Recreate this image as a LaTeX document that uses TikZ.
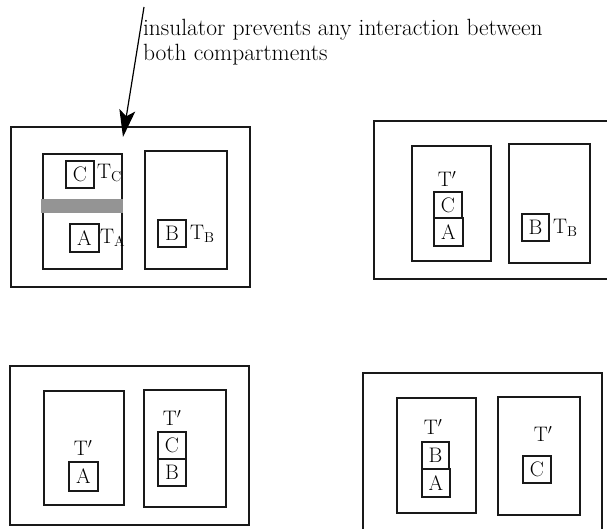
\documentclass[tikz,border=0pt]{standalone}
\usetikzlibrary{arrows.meta}
\begin{document}
\begin{tikzpicture}[x=1pt,y=-1pt,
  every node/.style={font=\fontsize{21}{25}\selectfont, inner sep=0pt, outer sep=0pt},
  outerbox/.style={draw=black!90, line width=1.5pt},
  compbox/.style={draw=black!90, line width=1.2pt},
  rect/.style={draw=black!90, line width=1.2pt},
  lbl/.style={anchor=west},
  ins/.style={fill=black!42, draw=none},
  pointer/.style={line width=1.2pt, -{Stealth[length=27pt,width=16pt,inset=6pt]}}
]
\useasboundingbox (0,0) rectangle (607,529);
\newcommand{\bx}[5]{\node[rect, minimum width=#3, minimum height=#4] (#1) at #2 {#5};}

% ---------- text and arrow ----------
\node[anchor=north west, align=left, font=\fontsize{23.5}{25.5}\selectfont] (note) at (143,19) {insulator prevents any interaction between\\both compartments};
\coordinate (arrstart) at (144,7);

% ---------- top-left ----------
\node[outerbox, minimum width=239, minimum height=160] (o1) at (130.5,207) {};
\node[compbox, minimum width=79, minimum height=115] (l1) at (82.5,211.5) {};
\node[compbox, minimum width=82, minimum height=118] (r1) at (186,210) {};
\node[ins, minimum width=82, minimum height=14] (bar) at (82,206) {};
\bx{c1}{(80,174.5)}{28}{27}{C}
\node[lbl] (tc1) at (97,173) {T$_{\mathrm{C}}$};
\bx{a1}{(84.5,238)}{29}{28}{A}
\node[lbl] (ta1) at (100,238) {T$_{\mathrm{A}}$};
\bx{b1}{(172,233.5)}{28}{27}{B}
\node[lbl] (tb1) at (190,234) {T$_{\mathrm{B}}$};
\coordinate (arrtip) at (123,137);
\draw[pointer] (arrstart) -- (arrtip);

% ---------- top-right ----------
\coordinate (o2a) at (607,121);
\coordinate (o2b) at (374,121);
\coordinate (o2c) at (374,279);
\coordinate (o2d) at (607,279);
\draw[outerbox] (o2a) -- (o2b) -- (o2c) -- (o2d);
\node[compbox, minimum width=79, minimum height=115] (l2) at (451.5,203.5) {};
\node[compbox, minimum width=81, minimum height=119] (r2) at (549.5,203.5) {};
\node (tp2) at (447,179) {T$'$};
\bx{c2}{(448,205)}{28}{26}{C}
\bx{a2}{(448.5,232)}{29}{28}{A}
\bx{b2}{(535.5,227.5)}{27}{27}{B}
\node[lbl] (tb2) at (553,228) {T$_{\mathrm{B}}$};

% ---------- bottom-left ----------
\node[outerbox, minimum width=239, minimum height=159] (o3) at (129.5,445.5) {};
\node[compbox, minimum width=80, minimum height=114] (l3) at (84,448) {};
\node[compbox, minimum width=82, minimum height=117] (r3) at (185,448.5) {};
\node (tp3l) at (83,448) {T$'$};
\bx{a3}{(83.5,476.5)}{29}{29}{A}
\node (tp3r) at (172,418) {T$'$};
\bx{c3}{(172,445.5)}{28}{27}{C}
\bx{b3}{(172,472.5)}{28}{27}{B}

% ---------- bottom-right ----------
\coordinate (o4a) at (363,529);
\coordinate (o4b) at (363,373);
\coordinate (o4c) at (602,373);
\coordinate (o4d) at (602,529);
\draw[outerbox] (o4a) -- (o4b) -- (o4c) -- (o4d);
\node[compbox, minimum width=79, minimum height=115] (l4) at (436.5,455.5) {};
\node[compbox, minimum width=82, minimum height=118] (r4) at (539,456) {};
\node (tp4l) at (433,427) {T$'$};
\bx{b4}{(435.5,455.5)}{27}{27}{B}
\bx{a4}{(436,483)}{28}{28}{A}
\node (tp4r) at (543,434) {T$'$};
\bx{c4}{(537,469.5)}{28}{27}{C}
\end{tikzpicture}
\end{document}
